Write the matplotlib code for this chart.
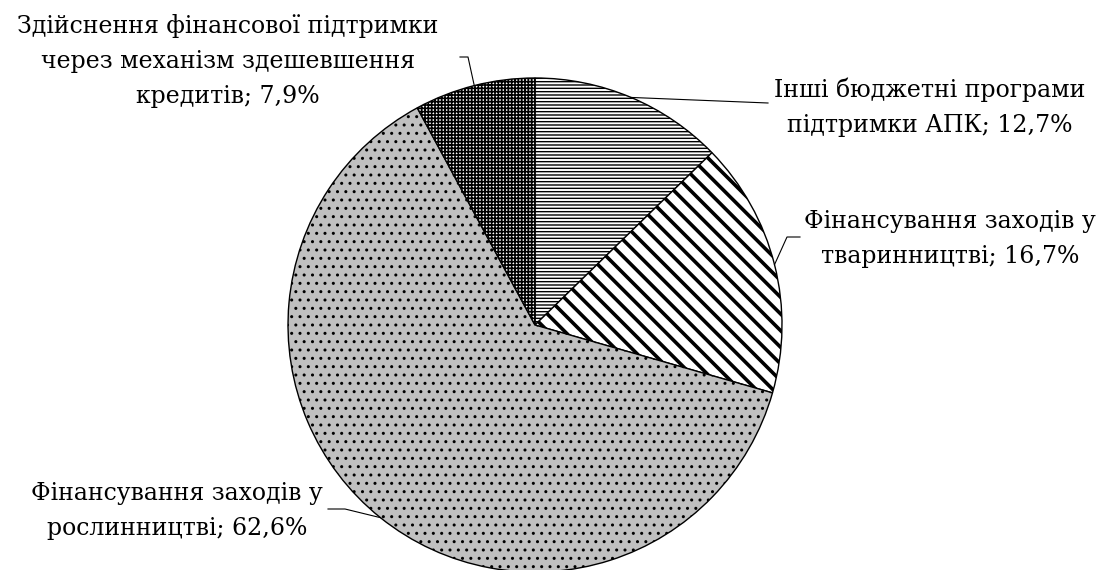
import numpy as np
import matplotlib
matplotlib.use("Agg")
import matplotlib.pyplot as plt

# ---- data ----
labels = [
    "Інші бюджетні програми\nпідтримки АПК; 12,7%",
    "Фінансування заходів у\nтваринництві; 16,7%",
    "Фінансування заходів у\nрослинництві; 62,6%",
    "Здійснення фінансової підтримки\nчерез механізм здешевшення\nкредитів; 7,9%",
]
values = [12.7, 16.7, 62.6, 7.9]

# ---- styles / layout ----
hatches = ["-----", "\\\\", "..", "+++++"]
faces = ["white", "white", "#c0c0c0", "white"]
hatch_lw = [1.0, 2.6, 1.0, 1.2]
W, H = 1100, 570
cx, cy, R = 535, 325, 247
label_pos = [(930, 107), (950, 239), (177, 511), (228, 61)]
elbows = [[(768, 103)], [(787, 237), (800, 237)],
          [(345, 509), (328, 509)], [(468, 57), (460, 57)]]

plt.rcParams['font.family'] = ['DejaVu Serif']
fig = plt.figure(figsize=(W / 100, H / 100), dpi=100)
ax = fig.add_axes([0, 0, 1, 1])

def Y(y):
    return H - y

wedges, _ = ax.pie(values, startangle=90, counterclock=False,
                   center=(cx, Y(cy)), radius=R, frame=True,
                   wedgeprops=dict(edgecolor='black', linewidth=1.0))
ax.set_xlim(0, W)
ax.set_ylim(0, H)
ax.set_aspect('equal')
ax.axis('off')

for w, h, fc, hl in zip(wedges, hatches, faces, hatch_lw):
    w.set_facecolor(fc)
    w.set_hatch(h)
    if hasattr(w, "set_hatch_linewidth"):
        w.set_hatch_linewidth(hl)

for w, lab, (tx, ty), el in zip(wedges, labels, label_pos, elbows):
    mid = np.deg2rad((w.theta1 + w.theta2) / 2)
    ex = cx + R * np.cos(mid)
    ey = Y(cy) + R * np.sin(mid)
    xs = [ex] + [p[0] for p in el]
    ys = [ey] + [Y(p[1]) for p in el]
    ax.plot(xs, ys, color='black', lw=0.8)
    ax.text(tx, Y(ty), lab, ha='center', va='center', fontsize=17,
            linespacing=1.65, color='black')

fig.savefig("out.png", dpi=100)
